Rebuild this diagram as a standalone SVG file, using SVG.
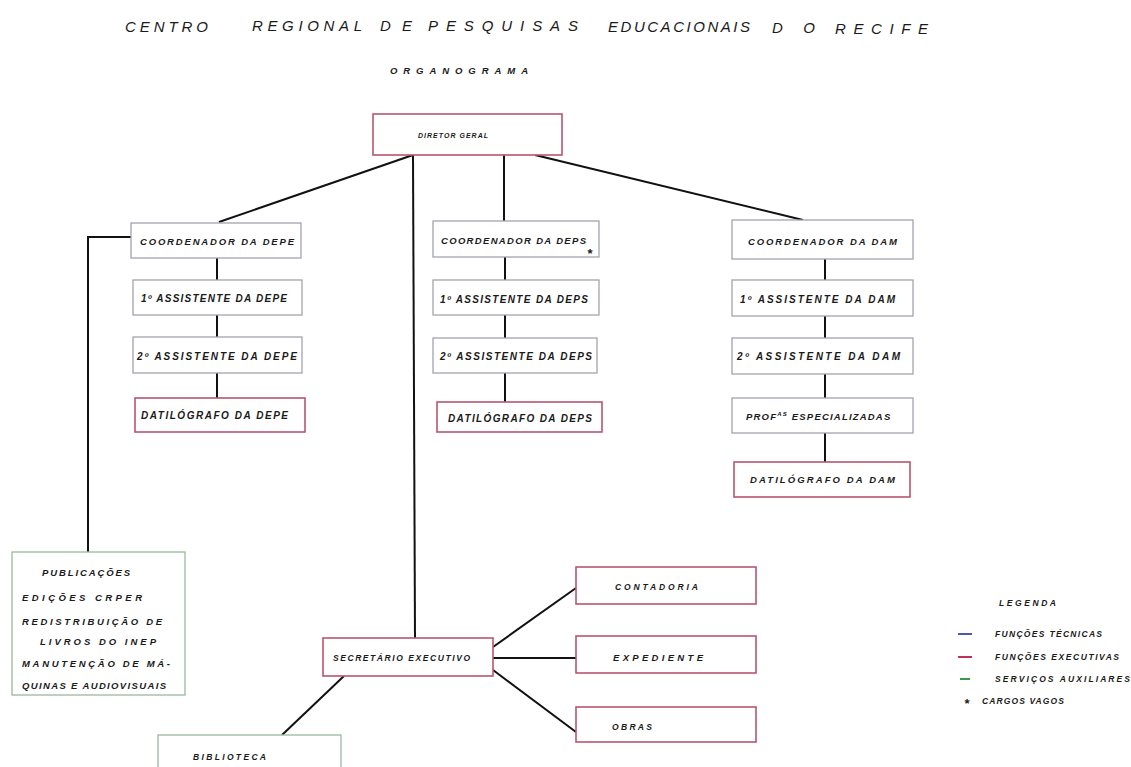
<svg xmlns="http://www.w3.org/2000/svg" width="1131" height="767" viewBox="0 0 1131 767">
<style>
text{font-family:"Liberation Sans",Arial,sans-serif;font-style:italic;fill:#1a1a1a;}
.t{font-size:10px;font-weight:bold;}
.s8{font-size:9.5px;font-weight:bold;}
.s7{font-size:8.5px;font-weight:bold;}
.s6{font-size:7px;font-weight:bold;}
.ti{font-size:15px;}
.star{font-size:13px;font-weight:bold;}
.tech{fill:#fff;stroke:#a3a3ad;stroke-width:1.3;}
.exec{fill:#fff;stroke:#b8566f;stroke-width:1.6;}
.aux{fill:#fff;stroke:#9cb89c;stroke-width:1.3;}
.c{fill:none;stroke:#111;stroke-width:2;}
</style>
<rect width="1131" height="767" fill="#fff"/>
<g id="title">
<text class="ti" x="125" y="32" textLength="83" lengthAdjust="spacing">CENTRO</text>
<text class="ti" x="252" y="31" textLength="110" lengthAdjust="spacing">REGIONAL</text>
<text class="ti" x="380" y="31" textLength="32" lengthAdjust="spacing">DE</text>
<text class="ti" x="428" y="31" textLength="150" lengthAdjust="spacing">PESQUISAS</text>
<text class="ti" x="608" y="32" textLength="142" lengthAdjust="spacing">EDUCACIONAIS</text>
<text class="ti" x="772" y="33" textLength="43" lengthAdjust="spacing">DO</text>
<text class="ti" x="835" y="34" textLength="93" lengthAdjust="spacing">RECIFE</text>
<text class="s8" x="390" y="74" textLength="138" lengthAdjust="spacing">ORGANOGRAMA</text>
</g>
<g id="connectors">
<line class="c" x1="413" y1="155" x2="219" y2="222"/>
<line class="c" x1="413" y1="155" x2="415" y2="638"/>
<line class="c" x1="504" y1="155" x2="504" y2="222"/>
<line class="c" x1="535" y1="155" x2="803" y2="220"/>
<line class="c" x1="217" y1="258" x2="217" y2="280"/>
<line class="c" x1="217" y1="315" x2="217" y2="337"/>
<line class="c" x1="217" y1="373" x2="217" y2="398"/>
<line class="c" x1="505" y1="257" x2="505" y2="280"/>
<line class="c" x1="505" y1="315" x2="505" y2="338"/>
<line class="c" x1="505" y1="373" x2="505" y2="402"/>
<line class="c" x1="825" y1="259" x2="825" y2="280"/>
<line class="c" x1="825" y1="316" x2="825" y2="338"/>
<line class="c" x1="825" y1="374" x2="825" y2="398"/>
<line class="c" x1="825" y1="433" x2="825" y2="462"/>
<polyline class="c" points="131,237 88,237 88,552"/>
<line class="c" x1="493" y1="647" x2="576" y2="588"/>
<line class="c" x1="493" y1="658" x2="576" y2="658"/>
<line class="c" x1="493" y1="670" x2="576" y2="732"/>
<line class="c" x1="344" y1="676" x2="282" y2="735"/>
</g>
<g id="diretor"><rect class="exec" x="373" y="114" width="189" height="41"/><text class="s6" x="418" y="138" textLength="70" lengthAdjust="spacing">DIRETOR GERAL</text></g>
<g id="coord-depe"><rect class="tech" x="131" y="223" width="170" height="35"/><text class="s8" x="140" y="245" textLength="154" lengthAdjust="spacing">COORDENADOR DA DEPE</text></g>
<g id="ass1-depe"><rect class="tech" x="133" y="280" width="169" height="35"/><text class="t" x="141" y="302" textLength="146" lengthAdjust="spacing">1º ASSISTENTE DA DEPE</text></g>
<g id="ass2-depe"><rect class="tech" x="133" y="337" width="169" height="36"/><text class="t" x="137" y="360" textLength="160" lengthAdjust="spacing">2º ASSISTENTE DA DEPE</text></g>
<g id="dat-depe"><rect class="exec" x="135" y="398" width="170" height="34"/><text class="t" x="141" y="419" textLength="147" lengthAdjust="spacing">DATILÓGRAFO DA DEPE</text></g>
<g id="coord-deps"><rect class="tech" x="433" y="221" width="166" height="36"/><text class="s8" x="441" y="244" textLength="145" lengthAdjust="spacing">COORDENADOR DA DEPS</text><text class="star" x="587" y="258">*</text></g>
<g id="ass1-deps"><rect class="tech" x="433" y="280" width="166" height="35"/><text class="t" x="440" y="303" textLength="148" lengthAdjust="spacing">1º ASSISTENTE DA DEPS</text></g>
<g id="ass2-deps"><rect class="tech" x="433" y="338" width="164" height="35"/><text class="t" x="440" y="360" textLength="152" lengthAdjust="spacing">2º ASSISTENTE DA DEPS</text></g>
<g id="dat-deps"><rect class="exec" x="437" y="402" width="165" height="30"/><text class="t" x="448" y="422" textLength="144" lengthAdjust="spacing">DATILÓGRAFO DA DEPS</text></g>
<g id="coord-dam"><rect class="tech" x="732" y="220" width="181" height="39"/><text class="s8" x="748" y="245" textLength="149" lengthAdjust="spacing">COORDENADOR DA DAM</text></g>
<g id="ass1-dam"><rect class="tech" x="732" y="280" width="181" height="36"/><text class="t" x="740" y="303" textLength="155" lengthAdjust="spacing">1º ASSISTENTE DA DAM</text></g>
<g id="ass2-dam"><rect class="tech" x="732" y="338" width="181" height="36"/><text class="t" x="737" y="360" textLength="163" lengthAdjust="spacing">2º ASSISTENTE DA DAM</text></g>
<g id="prof-dam"><rect class="tech" x="732" y="398" width="181" height="35"/><text class="s8" x="746" y="420" letter-spacing="1.2">PROF<tspan style="font-size:6px" dy="-4">AS</tspan><tspan dy="4"> ESPECIALIZADAS</tspan></text></g>
<g id="dat-dam"><rect class="exec" x="734" y="462" width="176" height="35"/><text class="s8" x="750" y="483" textLength="145" lengthAdjust="spacing">DATILÓGRAFO DA DAM</text></g>
<g id="publicacoes"><rect class="aux" x="12" y="552" width="173" height="143"/>
<text class="s8" x="42" y="576" textLength="88" lengthAdjust="spacing">PUBLICAÇÕES</text>
<text class="s8" x="22" y="601" textLength="120" lengthAdjust="spacing">EDIÇÕES  CRPER</text>
<text class="s8" x="22" y="625" textLength="140" lengthAdjust="spacing">REDISTRIBUIÇÃO DE</text>
<text class="s8" x="40" y="645" textLength="116" lengthAdjust="spacing">LIVROS DO INEP</text>
<text class="s8" x="22" y="667" textLength="148" lengthAdjust="spacing">MANUTENÇÃO DE MÁ-</text>
<text class="s8" x="22" y="689" textLength="144" lengthAdjust="spacing">QUINAS E AUDIOVISUAIS</text>
</g>
<g id="secretario"><rect class="exec" x="323" y="638" width="170" height="38"/><text class="s7" x="333" y="661" textLength="137" lengthAdjust="spacing">SECRETÁRIO EXECUTIVO</text></g>
<g id="contadoria"><rect class="exec" x="576" y="567" width="180" height="37"/><text class="s7" x="615" y="590" textLength="83" lengthAdjust="spacing">CONTADORIA</text></g>
<g id="expediente"><rect class="exec" x="576" y="636" width="180" height="37"/><text class="s8" x="613" y="661" textLength="90" lengthAdjust="spacing">EXPEDIENTE</text></g>
<g id="obras"><rect class="exec" x="576" y="707" width="180" height="35"/><text class="s7" x="612" y="730" textLength="40" lengthAdjust="spacing">OBRAS</text></g>
<g id="biblioteca"><rect class="aux" x="158" y="735" width="183" height="50"/><text class="s7" x="193" y="760" textLength="73" lengthAdjust="spacing">BIBLIOTECA</text></g>
<g id="legenda">
<text class="s7" x="999" y="606" textLength="57" lengthAdjust="spacing">LEGENDA</text>
<line x1="958" y1="634" x2="972" y2="634" stroke="#4a5aa8" stroke-width="2"/>
<text class="s7" x="995" y="637" textLength="107" lengthAdjust="spacing">FUNÇÕES TÉCNICAS</text>
<line x1="958" y1="657" x2="972" y2="657" stroke="#c0305a" stroke-width="2"/>
<text class="s7" x="995" y="660" textLength="124" lengthAdjust="spacing">FUNÇÕES EXECUTIVAS</text>
<line x1="960" y1="679" x2="970" y2="679" stroke="#3a9a4a" stroke-width="2"/>
<text class="s7" x="995" y="682" textLength="135" lengthAdjust="spacing">SERVIÇOS AUXILIARES</text>
<text class="star" x="964" y="708">*</text>
<text class="s7" x="982" y="704" textLength="82" lengthAdjust="spacing">CARGOS VAGOS</text>
</g>
</svg>
